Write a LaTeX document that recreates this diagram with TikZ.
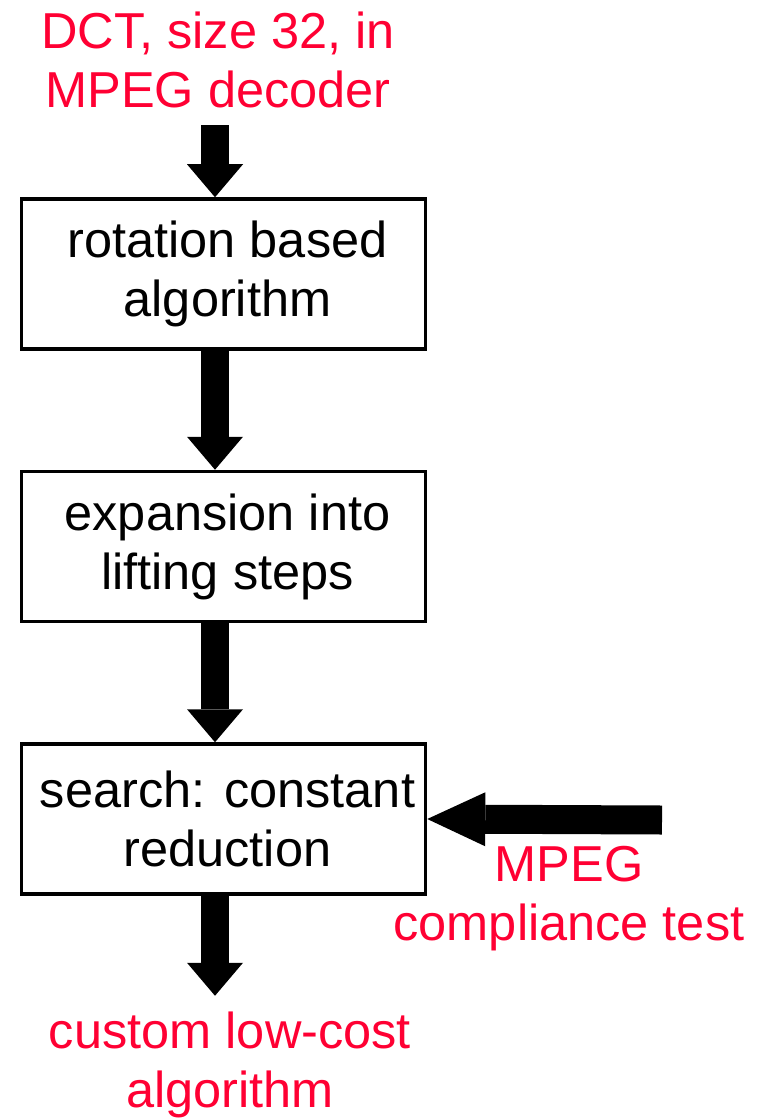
\documentclass[tikz,border=0pt]{standalone}
\usepackage{fontspec}
\setmainfont{Liberation Sans}
\usetikzlibrary{arrows.meta,positioning}
\definecolor{mpegred}{HTML}{FF0033}
\newcommand{\bigtxt}{\fontsize{50.5}{59}\selectfont}

\begin{document}
\begin{tikzpicture}[x=1pt, y=1pt, node distance=119pt,
    blk/.style = {draw, line width=3.5pt, minimum width=404pt, minimum height=150pt, align=center, font=\bigtxt},
    lbl/.style = {text=mpegred, align=center, inner sep=0pt, font=\bigtxt},
    bigarrow/.style = {line width=28pt, -{Triangle[width=56pt, length=33pt, line width=0pt]}}]
    \useasboundingbox (0,0) rectangle (767,-1118);
    \node[lbl] (src) at (218,-60) {DCT, size 32, in\\MPEG decoder};
    \node[blk] (rot) at (223.5,-274) {\hspace*{8pt}rotation based\\\hspace*{8pt}algorithm};
    \node[blk] (lift) [below=of rot] {\hspace*{8pt}expansion into\\\hspace*{8pt}lifting steps};
    \node[blk] (srch) [below=of lift] {\hspace*{8pt}search: constant\\\hspace*{8pt}reduction};
    \node[lbl] (cmp) at (569,-899) {MPEG\\compliance test};
    \node[lbl] (dst) at (230,-1065) {custom low-cost\\algorithm};
    \coordinate (tail) at (662,-820);
    \draw[bigarrow, shorten <=17pt] ([xshift=-3pt]src.south) -- ([xshift=-8.5pt]rot.north);
    \draw[bigarrow] ([xshift=-8.5pt]rot.south) -- ([xshift=-8.5pt]lift.north);
    \draw[bigarrow] ([xshift=-8.5pt]lift.south) -- ([xshift=-8.5pt]srch.north);
    \draw[bigarrow, shorten >=16pt] ([xshift=-8.5pt]srch.south) -- ([xshift=-8.5pt]srch.south |- dst.north);
    \draw[line width=29pt, -{Triangle[width=54pt, length=58pt, line width=0pt]}] (tail) -- (srch.east);
\end{tikzpicture}
\end{document}
